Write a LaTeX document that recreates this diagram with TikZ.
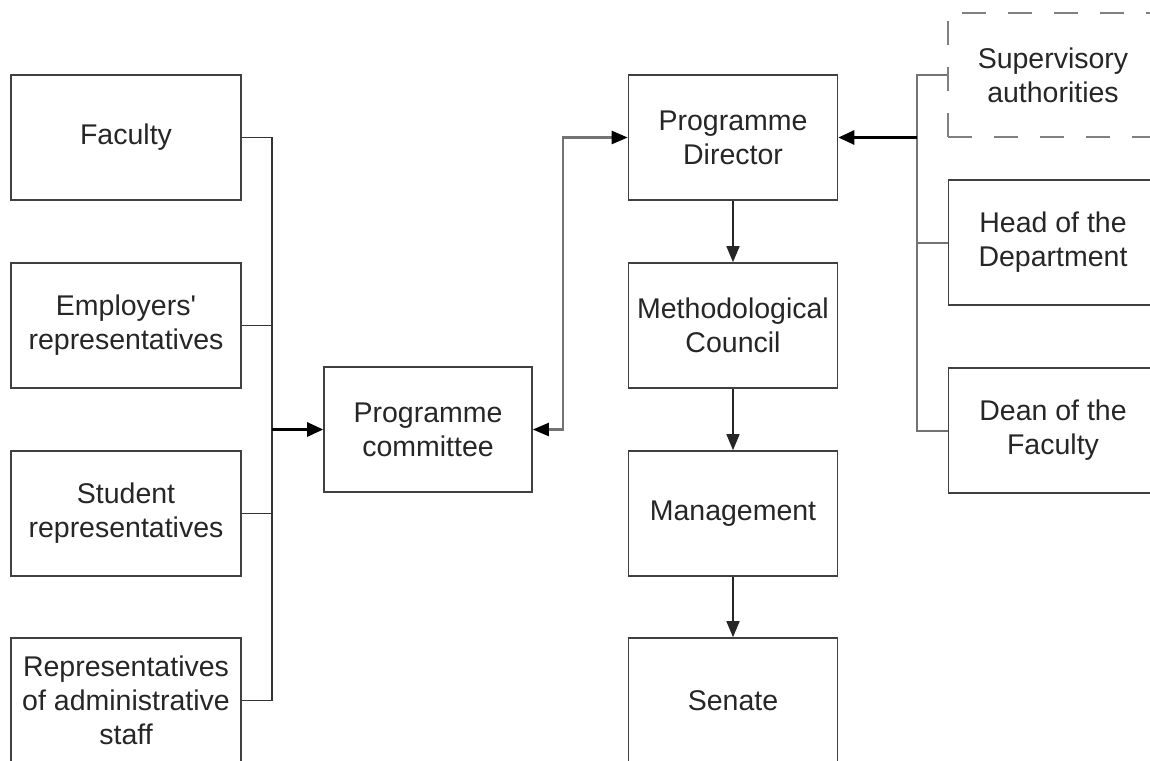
\documentclass[tikz,border=0pt]{standalone}
\usepackage{fontspec}
\setmainfont{Liberation Sans}[Ligatures=TeXOff]
\usetikzlibrary{arrows.meta}

\tikzset{
    unit/.style={draw=black!75, line width=1.6pt, minimum width=230pt, minimum height=125pt,
        inner sep=0pt, align=center, text=black!85, font=\fontsize{28.5}{34}\selectfont},
    midunit/.style={unit, minimum width=209pt},
    authority/.style={unit, draw=black!50, dash pattern=on 24pt off 22pt},
    feed/.style={draw=black!80, line width=1.5pt},
    stub/.style={draw=black!55, line width=2pt},
    mainarrow/.style={line width=2.8pt, -{Triangle[length=16pt,width=14pt]}},
    twoway/.style={draw=black!55, line width=2.2pt,
        {Triangle[length=16pt,width=13pt,color=black]}-{Triangle[length=16pt,width=13pt,color=black]}},
    downarrow/.style={draw=black!85, line width=1.5pt, -{Triangle[length=16pt,width=13pt]}}
}

\begin{document}
\begin{tikzpicture}[x=1pt, y=-1pt]
    \useasboundingbox (0,0) rectangle (1150,760);
    \clip (0,0) rectangle (1150,760);

    % Members of the committee
    \node[unit] (fac) at (126,137.5) {Faculty};
    \node[unit] (emp) at (126,325.5) {Employers'\\representatives};
    \node[unit] (stu) at (126,513.5) {Student\\representatives};
    \node[unit] (adm) at (126,700.5) {Representatives\\of administrative\\staff};

    % Committee
    \node[midunit, minimum width=208pt] (com) at (428,429.5) {Programme\\committee};

    % Middle column
    \node[midunit] (dir) at (733,137.5) {Programme\\Director};
    \node[midunit] (met) at (733,325.5) {Methodological\\Council};
    \node[midunit] (mgt) at (733,513.5) {Management};
    \node[midunit] (sen) at (733,700.5) {Senate};

    % Right column
    \node[authority, minimum width=210pt, minimum height=124pt] (sup) at (1053,75) {Supervisory\\authorities};
    \node[midunit] (head) at (1053,242.5) {Head of the\\Department};
    \node[midunit] (dean) at (1053,430.5) {Dean of the\\Faculty};

    % Left bus
    \coordinate (ljoin) at (272,429.5);
    \draw[feed] (fac.east) -| (ljoin) |- (adm.east);
    \draw[feed] (emp.east) -| (ljoin);
    \draw[feed] (stu.east) -| (ljoin);
    \draw[mainarrow] (ljoin) -- (com.west);

    % Committee <-> Director
    \coordinate (cbend) at (563,429.5);
    \draw[twoway] (com.east) -- (cbend) |- (dir.west);

    % Chain downwards
    \draw[downarrow] (dir) -- (met);
    \draw[downarrow] (met) -- (mgt);
    \draw[downarrow] (mgt) -- (sen);

    % Right bus
    \coordinate (rjoin) at (917,137.5);
    \draw[stub] (sup.west) -| (rjoin);
    \draw[stub] (rjoin) |- (dean.west);
    \draw[stub] (head.west) -| (rjoin);
    \draw[mainarrow] (rjoin) -- (dir.east);
\end{tikzpicture}
\end{document}
